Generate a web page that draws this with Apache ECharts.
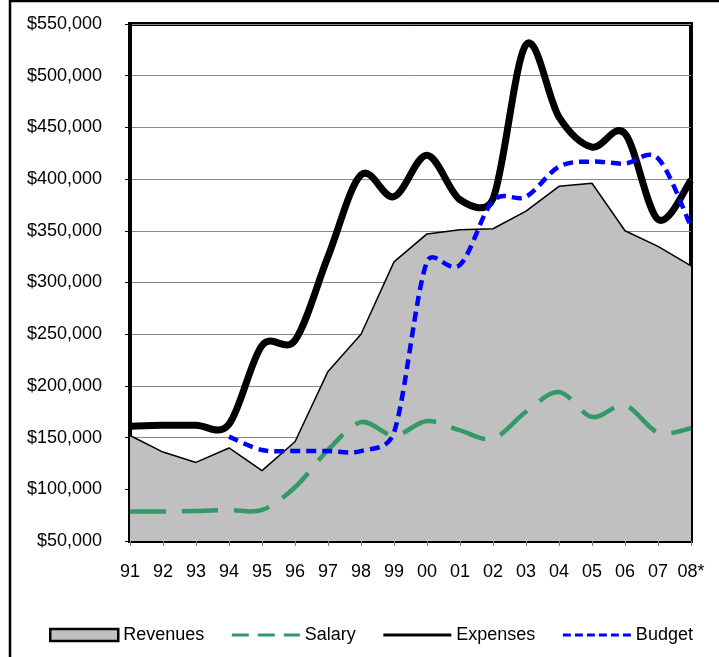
<!DOCTYPE html>
<html>
<head>
<meta charset="utf-8">
<script src="https://cdn.jsdelivr.net/npm/echarts@6/dist/echarts.min.js"></script>
<style>
  html, body { margin: 0; padding: 0; background: #fff; }
  #chart { width: 719px; height: 657px; }
</style>
</head>
<body>
<div id="chart"></div>
<script>
// years on the x axis
const years = ['91', '92', '93', '94', '95', '96', '97', '98', '99', '00', '01', '02', '03', '04', '05', '06', '07', '08*'];

// values
const revenues = [152000, 136000, 126000, 140000, 118000, 146000, 214000, 250000, 320000, 347000, 351000, 352000, 369000, 393000, 396000, 350000, 335000, 316000];
const salary = [78500, 78500, 79000, 80000, 80000, 102000, 138000, 165000, 152000, 166000, 157000, 149000, 175000, 194000, 170000, 181000, 155000, 159000];
const expenses = [161000, 162000, 162000, 163000, 239000, 244000, 325000, 404000, 383000, 423000, 380000, 381000, 530000, 460000, 431000, 444000, 361000, 399000];
const budget = ['-', '-', '-', 151000, 138000, 137000, 137000, 137000, 155000, 320000, 317000, 379000, 383000, 412000, 417000, 415000, 420000, 354000];

const font = 'Liberation Sans, Arial, sans-serif';
const chart = echarts.init(document.getElementById('chart'));

function dist(a, b) {
  return Math.sqrt((a[0] - b[0]) * (a[0] - b[0]) + (a[1] - b[1]) * (a[1] - b[1]));
}

// excel style smoothed line: bezier arms of 1/6, capped at half the segment
function smoothLine(values, color, width, dash) {
  const first = values.findIndex(v => v !== '-');
  return function (params, api) {
    if (params.dataIndex !== first) return null;
    const pts = [];
    values.forEach((v, i) => {
      if (v !== '-') pts.push(api.coord([i, v]));
    });
    let d = 'M' + pts[0][0] + ',' + pts[0][1];
    for (let i = 0; i < pts.length - 1; i++) {
      const p0 = pts[Math.max(i - 1, 0)];
      const p1 = pts[i];
      const p2 = pts[i + 1];
      const p3 = pts[Math.min(i + 2, pts.length - 1)];
      const d12 = dist(p1, p2), d02 = dist(p0, p2), d13 = dist(p1, p3);
      let f = 1 / 6, g = 1 / 6;
      if (d02 / 6 >= d12 / 2 && d02 > 0) f = d12 / (2 * d02);
      if (d13 / 6 >= d12 / 2 && d13 > 0) g = d12 / (2 * d13);
      const c1x = p1[0] + (p2[0] - p0[0]) * f, c1y = p1[1] + (p2[1] - p0[1]) * f;
      const c2x = p2[0] - (p3[0] - p1[0]) * g, c2y = p2[1] - (p3[1] - p1[1]) * g;
      d += ' C' + c1x + ',' + c1y + ' ' + c2x + ',' + c2y + ' ' + p2[0] + ',' + p2[1];
    }
    return {
      type: 'path',
      shape: { pathData: d },
      style: { fill: null, stroke: color, lineWidth: width, lineDash: dash || null, lineJoin: 'round' }
    };
  };
}

const option = {
  backgroundColor: '#fff',
  animation: false,
  graphic: [{
    type: 'rect',
    shape: { x: 10, y: 1, width: 800, height: 800 },
    style: { fill: 'none', stroke: '#000', lineWidth: 2.5 },
    z: -1
  }],
  grid: {
    left: 130, top: 24, right: 28, bottom: 116,
    show: true,
    backgroundColor: '#fff',
    borderColor: '#000',
    borderWidth: 4
  },
  legend: {
    left: 44,
    top: 621,
    itemWidth: 68,
    itemHeight: 12,
    itemGap: 26,
    textStyle: { fontFamily: font, fontSize: 18, color: '#000' },
    data: [
      { name: 'Revenues', icon: 'rect', itemStyle: { color: '#c0c0c0', borderColor: '#000', borderWidth: 2.5 } },
      { name: 'Salary', icon: 'line', itemStyle: { borderColor: '#339966', borderWidth: 3, borderType: [17, 9] } },
      { name: 'Expenses', icon: 'line', itemStyle: { borderColor: '#000', borderWidth: 3 } },
      { name: 'Budget', icon: 'line', itemStyle: { borderColor: '#0000ff', borderWidth: 3, borderType: [8, 4] } }
    ]
  },
  xAxis: {
    type: 'category',
    data: years,
    boundaryGap: false,
    axisLine: { lineStyle: { color: '#000', width: 3 } },
    axisTick: { show: true, interval: 0, length: 5, lineStyle: { color: '#808080' } },
    axisLabel: { interval: 0, fontFamily: font, fontSize: 18, color: '#000', margin: 22 }
  },
  yAxis: {
    type: 'value',
    min: 50000,
    max: 550000,
    interval: 50000,
    axisLine: { show: true, lineStyle: { color: '#000', width: 3 } },
    axisTick: { show: true, length: 5, lineStyle: { color: '#000' } },
    splitLine: { lineStyle: { color: '#888', width: 1 } },
    axisLabel: {
      fontFamily: font, fontSize: 18, color: '#000', margin: 28,
      formatter: v => '$' + v.toLocaleString('en-US')
    }
  },
  series: [
    {
      name: 'Revenues',
      type: 'line',
      data: revenues,
      symbol: 'none',
      lineStyle: { color: '#000', width: 1.5 },
      itemStyle: { color: '#c0c0c0' },
      areaStyle: { color: '#c0c0c0', opacity: 1, origin: 'start' },
      z: 1
    },
    {
      name: 'Salary',
      type: 'custom',
      data: salary.map((v, i) => [i, v]),
      itemStyle: { color: '#339966' },
      renderItem: smoothLine(salary, '#339966', 4.5, [36, 16]),
      z: 2
    },
    {
      name: 'Expenses',
      type: 'custom',
      data: expenses.map((v, i) => [i, v]),
      itemStyle: { color: '#000' },
      renderItem: smoothLine(expenses, '#000', 7),
      z: 3
    },
    {
      name: 'Budget',
      type: 'custom',
      data: budget.map((v, i) => [i, v]),
      itemStyle: { color: '#0000ff' },
      renderItem: smoothLine(budget, '#0000ff', 4.5, [10, 6]),
      z: 4
    }
  ]
};

chart.setOption(option);
</script>
</body>
</html>
